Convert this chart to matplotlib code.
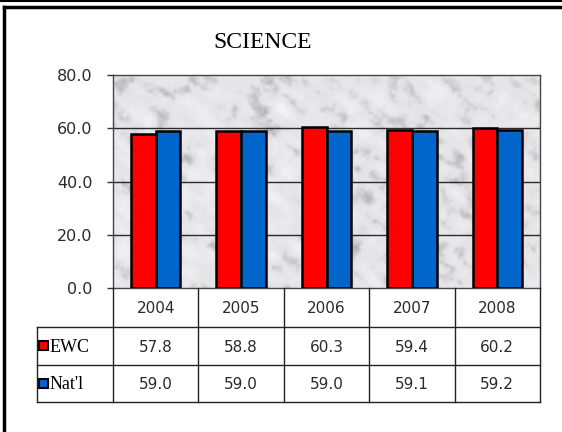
import numpy as np
import matplotlib
matplotlib.use("Agg")
import matplotlib.pyplot as plt
from matplotlib.patches import Rectangle

# chart data
years = ["2004", "2005", "2006", "2007", "2008"]
series_names = ["EWC", "Nat'l"]
ewc = [57.8, 58.8, 60.3, 59.4, 60.2]
natl = [59.0, 59.0, 59.0, 59.1, 59.2]
series_colors = ["#ff0000", "#0066cc"]
y_ticks = [0, 20, 40, 60, 80]

W, H = 562, 432
fig = plt.figure(figsize=(W / 100, H / 100), dpi=100)


def fx(px):
    return px / W


def fy(py):
    return 1 - py / H


# plot box in pixels
left, right, top, bottom = 113, 540, 75, 288
ax = fig.add_axes([fx(left), fy(bottom), fx(right) - fx(left), fy(top) - fy(bottom)])


def smooth_noise(rng, h, w, su, sv, ang_deg):
    noise = rng.standard_normal((h, w))
    ky = np.fft.fftfreq(h)[:, None]
    kx = np.fft.fftfreq(w)[None, :]
    ang = np.deg2rad(ang_deg)
    u = kx * np.cos(ang) + ky * np.sin(ang)
    v = -kx * np.sin(ang) + ky * np.cos(ang)
    filt = np.exp(-(u / su) ** 2 - (v / sv) ** 2)
    f = np.real(np.fft.ifft2(np.fft.fft2(noise) * filt))
    return f / f.std()


def marble(h, w, seed=11):
    # soft grey stone texture from filtered noise
    rng = np.random.default_rng(seed)
    streaks = smooth_noise(rng, h, w, 0.025, 0.07, 35)
    mottle = smooth_noise(rng, h, w, 0.05, 0.05, 0)
    fine = smooth_noise(rng, h, w, 0.15, 0.15, 0)
    field = 0.55 * streaks + 0.5 * mottle + 0.25 * fine
    dark = np.clip(field - 0.45, 0, None)
    g = 0.9 - 0.08 * dark - 0.02 * field
    g = np.clip(g, 0.68, 0.95)
    return np.dstack([g, g, g + 0.012]).clip(0, 1)


ax.imshow(marble(213, 427), extent=[-0.5, 4.5, 0, 80], aspect="auto",
          interpolation="bilinear", zorder=0)

x = np.arange(len(years))
bw = 0.29
ax.bar(x - bw / 2, ewc, bw, color=series_colors[0], edgecolor="black", linewidth=1.8, zorder=3)
ax.bar(x + bw / 2, natl, bw, color=series_colors[1], edgecolor="black", linewidth=1.8, zorder=3)

ax.set_xlim(-0.5, 4.5)
ax.set_ylim(0, 80)
ax.set_yticks(y_ticks)
ax.set_yticklabels([f"{t:.1f}" for t in y_ticks], fontsize=11.5, family="DejaVu Sans", color="#2a2a2a")
ax.set_xticks([])
for t in y_ticks[1:-1]:
    ax.axhline(t, color="#2a2a2a", linewidth=1.0, zorder=2)
for s in ax.spines.values():
    s.set_color("#444444")
    s.set_linewidth(1.0)
ax.tick_params(axis="y", length=4.5, width=1.0, color="#333333", pad=10)

fig.text(fx(263), fy(43), "SCIENCE", family="Liberation Serif", fontsize=17,
         ha="center", va="center")

# overlay in pixel coordinates for the frame and the data table
ov = fig.add_axes([0, 0, 1, 1], zorder=-1)
ov.set_xlim(0, W)
ov.set_ylim(H, 0)
ov.axis("off")

ov.plot([0, W], [1, 1], color="black", linewidth=1.5)
ov.plot([4, W], [7, 7], color="black", linewidth=2.5)
ov.plot([4, 4], [7, H], color="black", linewidth=2.5)

tab = fig.add_axes([0, 0, 1, 1], zorder=5)
tab.set_xlim(0, W)
tab.set_ylim(H, 0)
tab.axis("off")
tab.patch.set_alpha(0)

col_edges = np.linspace(left, right, len(years) + 1)
row_edges = [bottom, 327, 365, 402]
label_left = 37
lc = "#222222"
for xe in col_edges:
    tab.plot([xe, xe], [row_edges[0], row_edges[-1]], color=lc, linewidth=1.0)
tab.plot([label_left, label_left], [row_edges[1], row_edges[-1]], color=lc, linewidth=1.0)
for ye in row_edges[1:]:
    tab.plot([label_left, right], [ye, ye], color=lc, linewidth=1.0)

centers = (col_edges[:-1] + col_edges[1:]) / 2
for cx, yr in zip(centers, years):
    tab.text(cx, (row_edges[0] + row_edges[1]) / 2 + 1, yr, ha="center", va="center",
             fontsize=11, family="DejaVu Sans", color="#2a2a2a")

for i, (name, vals, col) in enumerate(zip(series_names, [ewc, natl], series_colors)):
    cy = (row_edges[i + 1] + row_edges[i + 2]) / 2
    tab.add_patch(Rectangle((39, cy - 5), 9, 9, facecolor=col, edgecolor="black", linewidth=1.5))
    tab.text(50, cy + 1, name, ha="left", va="center", fontsize=13, family="Liberation Serif")
    for cx, v in zip(centers, vals):
        tab.text(cx, cy + 1, f"{v:.1f}", ha="center", va="center",
                 fontsize=11, family="DejaVu Sans", color="#2a2a2a")

fig.savefig("out.png", dpi=100, facecolor="white")
